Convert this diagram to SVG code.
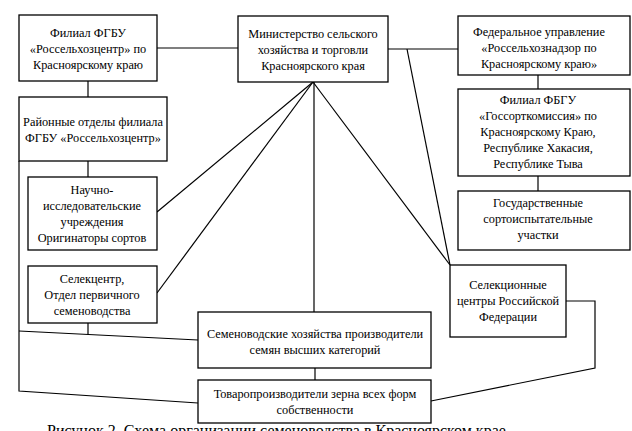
<svg xmlns="http://www.w3.org/2000/svg" width="632" height="431" viewBox="0 0 632 431">
<style>
.box{fill:#fff;stroke:#000;stroke-width:1.3}
.t{font-family:'Liberation Serif',Tinos,'Times New Roman','DejaVu Serif',serif;font-size:12.3px;fill:#000;text-anchor:middle}
.c{fill:none;stroke:#000;stroke-width:1.2}
.cap{font-family:'Liberation Serif',Tinos,'Times New Roman','DejaVu Serif',serif;font-size:16px;fill:#000}
</style>
<rect width="632" height="431" fill="#fff"/>
<g id="connectors">
<line class="c" x1="157" y1="48" x2="238" y2="48"/>
<line class="c" x1="388" y1="49" x2="458" y2="49"/>
<line class="c" x1="88" y1="81" x2="88" y2="97"/>
<line class="c" x1="88" y1="161" x2="88" y2="177"/>
<polyline class="c" points="19,161 19,391 198,403"/>
<line class="c" x1="19" y1="331" x2="198" y2="340"/>
<line class="c" x1="88" y1="323" x2="88" y2="334.5"/>
<line class="c" x1="313" y1="82" x2="157" y2="212"/>
<line class="c" x1="313" y1="82" x2="157" y2="293"/>
<line class="c" x1="314" y1="82" x2="314" y2="312"/>
<line class="c" x1="313" y1="82" x2="450" y2="265"/>
<line class="c" x1="407" y1="49" x2="450" y2="265"/>
<line class="c" x1="315" y1="368" x2="315" y2="380"/>
<line class="c" x1="538" y1="75" x2="538" y2="89"/>
<line class="c" x1="538" y1="176" x2="538" y2="191"/>
<polyline class="c" points="566,301 595,301 595,368 431,401"/>
</g>
<g id="n-filial-rsc">
<rect class="box" x="19" y="15" width="138" height="66"/>
<text class="t" x="88" y="37">Филиал ФГБУ</text>
<text class="t" x="88" y="53">«Россельхозцентр» по</text>
<text class="t" x="88" y="69">Красноярскому краю</text>
</g>
<g id="n-ministry">
<rect class="box" x="238" y="16" width="150" height="66"/>
<text class="t" x="313" y="38">Министерство сельского</text>
<text class="t" x="313" y="54">хозяйства и торговли</text>
<text class="t" x="313" y="70">Красноярского края</text>
</g>
<g id="n-rsn">
<rect class="box" x="458" y="16" width="172" height="59"/>
<text class="t" x="539" y="36">Федеральное управление</text>
<text class="t" x="539" y="52">«Россельхознадзор по</text>
<text class="t" x="539" y="68">Красноярскому краю»</text>
</g>
<g id="n-raion">
<rect class="box" x="19" y="97" width="148" height="64"/>
<text class="t" x="93" y="126">Районные отделы филиала</text>
<text class="t" x="93" y="142">ФГБУ «Россельхозцентр»</text>
</g>
<g id="n-gossort">
<rect class="box" x="458" y="89" width="172" height="87"/>
<text class="t" x="538" y="104">Филиал ФБГУ</text>
<text class="t" x="538" y="120">«Госсорткомиссия» по</text>
<text class="t" x="538" y="136">Красноярскому Краю,</text>
<text class="t" x="538" y="152">Республике Хакасия,</text>
<text class="t" x="538" y="168">Республике Тыва</text>
</g>
<g id="n-gsu">
<rect class="box" x="458" y="191" width="172" height="59"/>
<text class="t" x="538" y="207">Государственные</text>
<text class="t" x="538" y="223">сортоиспытательные</text>
<text class="t" x="538" y="239">участки</text>
</g>
<g id="n-nii">
<rect class="box" x="28" y="177" width="129" height="73"/>
<text class="t" x="92" y="194">Научно-</text>
<text class="t" x="92" y="210">исследовательские</text>
<text class="t" x="92" y="226">учреждения</text>
<text class="t" x="92" y="242">Оригинаторы сортов</text>
</g>
<g id="n-selekcentr">
<rect class="box" x="28" y="266" width="129" height="57"/>
<text class="t" x="92" y="283">Селекцентр,</text>
<text class="t" x="92" y="299">Отдел первичного</text>
<text class="t" x="92" y="315">семеноводства</text>
</g>
<g id="n-selcenters">
<rect class="box" x="450" y="265" width="116" height="72"/>
<text class="t" x="508" y="289">Селекционные</text>
<text class="t" x="508" y="305">центры Российской</text>
<text class="t" x="508" y="321">Федерации</text>
</g>
<g id="n-semhoz">
<rect class="box" x="198" y="312" width="233" height="56"/>
<text class="t" x="315" y="338">Семеноводские хозяйства производители</text>
<text class="t" x="315" y="354">семян высших категорий</text>
</g>
<g id="n-tovar">
<rect class="box" x="198" y="380" width="233" height="43"/>
<text class="t" x="315" y="398">Товаропроизводители зерна всех форм</text>
<text class="t" x="315" y="414">собственности</text>
</g>
<text class="cap" x="47" y="436">Рисунок 2. Схема организации семеноводства в Красноярском крае</text>
</svg>
